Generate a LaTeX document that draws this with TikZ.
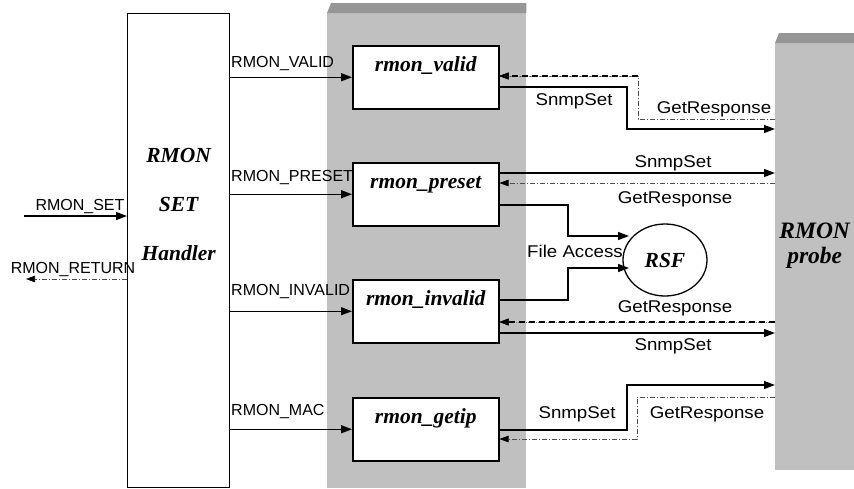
\documentclass[tikz,border=0pt]{standalone}
\usepackage{fontspec}
\setmainfont{Liberation Serif}
\setsansfont{Liberation Sans}
\usepackage{graphicx}
\usetikzlibrary{arrows.meta,shapes.geometric}
\definecolor{colgray}{RGB}{192,192,192}
\definecolor{coldark}{RGB}{150,150,150}
\newcommand{\stretchtxt}[1]{\scalebox{1.1}[1]{#1}}
\begin{document}
\begin{tikzpicture}[x=1pt,y=-1pt,
  column/.style={fill=colgray, draw=none, inner sep=0, anchor=north west},
  ttl/.style={font=\bfseries\itshape\fontsize{21.5}{21.5}\selectfont},
  fbox/.style={draw, fill=white, line width=1.5pt, inner sep=0, minimum width=146,
     text height=26pt, text depth=37pt, anchor=north west, ttl},
  lbl/.style={font=\sffamily\fontsize{16}{16}\selectfont, inner sep=0},
  msg/.style={font=\sffamily\fontsize{17}{17}\selectfont, inner sep=0},
  arr/.style={line width=1.4pt, -{Triangle[length=11pt,width=8pt]}},
  resp/.style={draw=black!70, line width=0.6pt, dash pattern=on 5pt off 2pt on 1pt off 2pt,
     -{Triangle[length=9pt,width=6.5pt,color=black]}},
  respthick/.style={line width=1.8pt, dash pattern=on 6pt off 4pt,
     preaction={draw=gray, line width=0.6pt, dash pattern=on 1pt off 1pt},
     -{Triangle[length=9pt,width=6.5pt,color=black]}},
]
\useasboundingbox (0,0) rectangle (854,488);

% gray columns
\node[column, minimum width=199, minimum height=475] (mid) at (327,13) {};
\fill[coldark] (mid.north west) -- ++(4,-10) -- (mid.north east |- 0,3) -- (mid.north east) -- cycle;
\node[column, minimum width=79, minimum height=427, align=center,
  font=\bfseries\itshape\fontsize{23.5}{25}\selectfont, text height=19pt] (probe) at (775,43) {RMON\\probe};
\fill[coldark] (probe.north west) -- ++(4,-10) -- (probe.north east |- 0,33) -- (probe.north east) -- cycle;

% handler
\node[draw, fill=white, line width=1.3pt, inner sep=0, anchor=north west, minimum width=102, minimum height=474,
  align=center, font=\bfseries\itshape\fontsize{21.5}{49}\selectfont, text height=20pt] (handler) at (127,13) {RMON\\SET\\Handler};

% function boxes
\node[fbox] (valid) at (352,45) {rmon\_valid};
\node[fbox] (preset) at (352,162) {rmon\_preset};
\node[fbox] (invalid) at (352,279) {rmon\_invalid};
\node[fbox] (getip) at (352,397) {rmon\_getip};

% RSF
\node[draw, ellipse, line width=1.3pt, fill=white, minimum width=84, minimum height=72, inner sep=0, ttl] (rsf) at (665,260) {RSF};

% left side
\coordinate (setin) at (24,216);
\draw[arr] (setin) -- (handler.west |- setin);
\node[lbl, anchor=base] (lset) at (80,210) {RMON\_SET};
\coordinate (retout) at (26,279);
\draw[resp] (handler.west |- retout) -- (retout);
\node[lbl, anchor=base] (lret) at (73,273) {RMON\_RETURN};

% handler to boxes
\draw[arr] (handler.east |- valid.west) -- (valid.west);
\draw[arr] (handler.east |- preset.west) -- (preset.west);
\draw[arr] (handler.east |- invalid.west) -- (invalid.west);
\draw[arr] (handler.east |- getip.west) -- (getip.west);
\node[lbl, anchor=base west] (lvalid) at (231,67) {RMON\_VALID};
\node[lbl, anchor=base west] (lpreset) at (231,181) {RMON\_PRESET};
\node[lbl, anchor=base west] (linvalid) at (231,295) {RMON\_INVALID};
\node[lbl, anchor=base west] (lmac) at (231,415) {RMON\_MAC};

% rmon_valid <-> probe
\draw[arr] (valid.east |- 0,87) -| (627,129) -- (probe.west |- 0,129);
\draw[resp] (probe.west |- 0,119) -| (638,76) -- (valid.east |- 0,76);
\draw[respthick] (638,76) -- (valid.east |- 0,76);
\node[msg, anchor=base] (m1) at (574,105) {\stretchtxt{SnmpSet}};
\node[msg, anchor=base] (m2) at (714,113) {\stretchtxt{GetResponse}};

% rmon_preset <-> probe
\draw[arr] (preset.east |- 0,173) -- (probe.west |- 0,173);
\draw[resp] (probe.west |- 0,183) -- (preset.east |- 0,183);
\node[msg, anchor=base] (m3) at (673,167) {\stretchtxt{SnmpSet}};
\node[msg, anchor=base] (m4) at (675,203) {\stretchtxt{GetResponse}};

% file access
\coordinate (rsfa) at (629,236);
\coordinate (rsfb) at (629,268);
\draw[arr] (preset.east |- 0,205) -| (568,236) -- (rsfa);
\draw[arr] (invalid.east |- 0,300) -| (568,268) -- (rsfb);
\node[msg, anchor=base] (m5) at (575,257) {\stretchtxt{File Access}};

% rmon_invalid <-> probe
\draw[respthick] (probe.west |- 0,322) -- (invalid.east |- 0,322);
\draw[arr] (invalid.east |- 0,333) -- (probe.west |- 0,333);
\node[msg, anchor=base] (m6) at (675,312) {\stretchtxt{GetResponse}};
\node[msg, anchor=base] (m7) at (673,350) {\stretchtxt{SnmpSet}};

% rmon_getip <-> probe
\draw[arr] (getip.east |- 0,430) -| (627,385) -- (probe.west |- 0,385);
\draw[resp] (probe.west |- 0,397) -| (637,439) -- (getip.east |- 0,439);
\node[msg, anchor=base] (m8) at (577,418) {\stretchtxt{SnmpSet}};
\node[msg, anchor=base] (m9) at (707,418) {\stretchtxt{GetResponse}};
\end{tikzpicture}
\end{document}
